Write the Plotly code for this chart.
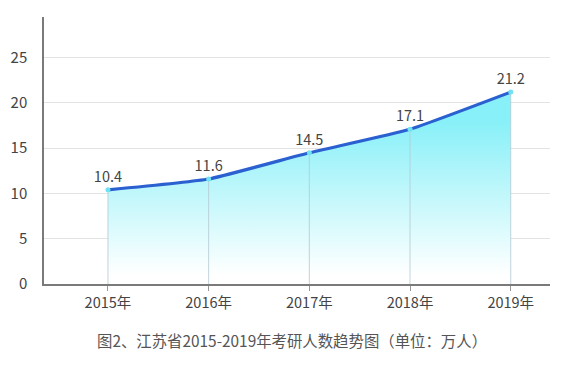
import plotly.graph_objects as go

years = ["2015年", "2016年", "2017年", "2018年", "2019年"]
values = [10.4, 11.6, 14.5, 17.1, 21.2]
y_ticks = [0, 5, 10, 15, 20, 25]
caption = "图2、江苏省2015-2019年考研人数趋势图（单位：万人）"

FONT = "Noto Sans CJK SC, Noto Sans, sans-serif"
xi = list(range(len(years)))

fig = go.Figure()

# gradient area
fig.add_trace(go.Scatter(
    x=xi, y=values, mode="lines", line=dict(width=0, shape="spline", smoothing=0.4),
    fill="tozeroy",
    fillgradient=dict(type="vertical", colorscale=[[0, "rgba(255,255,255,1)"], [1, "rgba(136,240,248,1)"]],
                      start=1, stop=18),
    hoverinfo="skip", showlegend=False,
))

# drop lines
dx, dy = [], []
for i, v in zip(xi, values):
    dx += [i, i, None]
    dy += [0, v, None]
fig.add_trace(go.Scatter(x=dx, y=dy, mode="lines", line=dict(color="rgba(180,200,210,0.8)", width=1),
                         hoverinfo="skip", showlegend=False))

# main line
fig.add_trace(go.Scatter(
    x=xi, y=values, mode="lines+markers+text",
    line=dict(color="#2b60d0", width=3.2, shape="spline", smoothing=0.4),
    marker=dict(color="#6fe3f2", size=5),
    text=[f"{v:.1f}" for v in values], textposition="top center",
    textfont=dict(family=FONT, size=14.5, color="#444444"),
    showlegend=False,
))

fig.update_layout(
    width=579, height=367,
    margin=dict(l=44, r=29, t=17, b=83, autoexpand=False),
    paper_bgcolor="white", plot_bgcolor="white",
    font=dict(family=FONT, color="#444444"),
    xaxis=dict(
        tickmode="array", tickvals=xi, ticktext=years, automargin=False,
        range=[-0.635, 4.39], showgrid=False, zeroline=False,
        showline=True, linecolor="#7a7a7a", linewidth=1.5,
        ticks="outside", ticklen=5, tickcolor="#999999",
        tickfont=dict(size=14.5, color="#444444"),
    ),
    yaxis=dict(
        tickmode="array", tickvals=y_ticks, range=[0, 29.5], automargin=False,
        showgrid=True, gridcolor="#e3e3e3", gridwidth=1, zeroline=False,
        showline=True, linecolor="#7a7a7a", linewidth=1.5,
        ticks="", ticklabelstandoff=12,
        tickfont=dict(size=15, color="#444444"),
    ),
    annotations=[dict(
        text=caption, xref="paper", yref="paper", x=0.49, y=-0.162,
        xanchor="center", yanchor="top", showarrow=False,
        font=dict(family=FONT, size=15.4, color="#555555"),
    )],
)

fig.write_html("out.html", config={"displayModeBar": False},
               post_script="document.body.style.margin='0';")
